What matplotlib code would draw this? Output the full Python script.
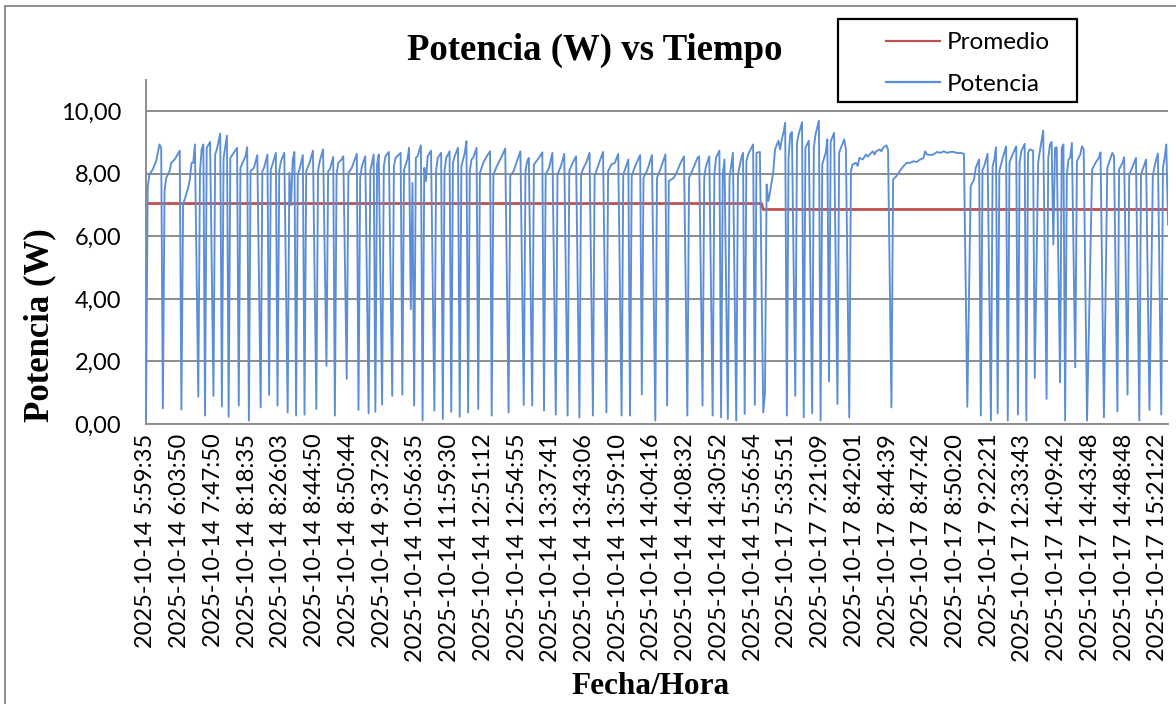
import matplotlib
matplotlib.use("Agg")
import matplotlib.pyplot as plt
from matplotlib.lines import Line2D
from matplotlib.patches import Rectangle

# Muestras (indice de categoria) y potencia en W
pot_idx = [
    0, 1, 2, 4, 6, 8, 9, 10, 11, 12, 14, 15, 17, 20, 21, 22, 25, 26, 27, 28, 29, 31,
    32, 33, 34, 35, 36, 38, 40, 41, 42, 44, 45, 46, 48, 49, 50, 52, 54, 55,
    56, 59, 60, 61, 62, 64, 66, 68, 69, 70, 72, 73, 74, 75, 77, 78, 79, 80, 82, 84,
    85, 86, 87, 88, 89, 90, 91, 93, 94, 95, 97, 99, 101, 102, 103, 105, 107,
    108, 109, 111, 112, 113, 114, 116, 117, 119, 120, 122, 125, 126, 127, 128, 130, 132,
    133, 135, 136, 137, 138, 140, 141, 142, 144, 146, 147, 148, 151, 152,
    153, 155, 156, 157, 158, 159, 160, 161, 163, 164, 165, 166, 167, 169, 171,
    172, 173, 175, 176, 177, 178, 180, 181, 182, 183, 185, 186, 187, 189, 190, 191,
    192, 193, 194, 196, 197, 198, 200, 202, 204, 205, 206, 208, 210, 211, 213, 215,
    216, 218, 220, 222, 224, 225, 226, 227, 229, 230, 233, 235, 236, 237, 239, 241, 243,
    244, 246, 248, 250, 251, 253, 255, 257, 258, 259, 261, 263, 265,
    266, 267, 269, 271, 273, 274, 276, 278, 280, 282, 283, 284, 286, 287,
    288, 290, 293, 294, 295, 297, 298, 300, 302, 303, 305, 308, 309,
    310, 313, 315, 317, 319, 321, 322, 325, 327, 328, 330, 331, 332, 334, 336,
    337, 338, 340, 341, 342, 343, 345, 346, 348, 350, 351, 353, 354, 355,
    356, 357, 360, 361, 362, 364, 366, 367,
    368, 369, 370, 372, 373, 375, 376, 377, 378, 379, 380,
    381, 382, 383, 385, 386, 387, 389, 390, 391, 393, 395, 396, 397, 399, 400,
    401, 403, 404, 405, 406, 408, 410, 411, 412, 414, 415, 417,
    418, 419, 421, 422, 423, 425, 427, 428, 430, 431, 432, 433, 435, 436, 437, 439, 440, 442,
    443, 445, 447, 449, 451, 453, 455, 457, 459, 461, 462, 463, 465, 467, 469, 471,
    473, 475, 477, 479, 481, 483, 485, 487,
    489, 491, 492, 494, 495, 496, 497, 499, 501, 502, 503, 504, 505,
    506, 508, 510, 511, 512, 513, 516, 517, 518, 519, 521, 522, 523, 524, 526, 527,
    529, 530, 532, 534, 535, 536, 537, 538, 539, 540, 542, 543, 544, 545,
    546, 547, 548, 549, 551, 552, 554, 555, 556, 558, 561, 563, 565, 566, 568,
    570, 571, 573, 574, 576, 577, 579, 580, 582, 583, 584, 587, 589,
    590, 591, 593, 595, 597, 598, 600, 602, 603, 604, 605, 606,
]
pot_val = [
    0.10, 7.55, 7.98, 8.14, 8.40, 8.94, 8.83, 0.50, 7.45, 7.87, 8.09, 8.35, 8.46, 8.74, 0.46, 7.02, 7.55, 7.82, 8.35, 8.35, 8.94, 0.87,
    8.09, 8.78, 8.94, 0.27, 8.83, 9.02, 0.90, 8.62, 8.78, 9.29, 0.56, 8.51, 9.22, 0.23, 8.51, 8.67, 8.83, 0.59,
    8.19, 8.56, 8.85, 0.11, 8.09, 8.19, 8.60, 0.53, 8.09, 8.19, 8.62, 0.93, 8.14, 8.30, 8.67, 0.59, 8.09, 8.40, 8.67, 0.37,
    8.03, 7.00, 8.46, 8.70, 0.27, 7.98, 8.14, 8.60, 0.30, 8.09, 8.35, 8.74, 0.48, 8.09, 8.40, 8.78, 1.86,
    8.09, 8.14, 8.54, 0.27, 7.98, 8.35, 8.46, 8.56, 1.44, 8.03, 8.19, 8.64, 0.45, 7.87, 8.24, 8.56, 0.34,
    8.09, 8.62, 0.39, 8.30, 8.62, 0.62, 8.24, 8.56, 8.70, 0.90, 8.24, 8.51, 8.67, 0.94,
    8.14, 8.46, 8.83, 3.67, 7.71, 0.59, 8.51, 8.56, 8.91, 0.11, 8.19, 7.77, 8.56, 8.74, 0.43,
    8.09, 8.51, 8.67, 0.16, 8.09, 8.51, 8.72, 0.39, 8.35, 8.56, 8.83, 0.23, 8.24, 8.67, 9.04, 0.37,
    8.09, 8.46, 8.51, 8.83, 0.48, 8.03, 8.35, 8.56, 8.72, 0.27, 7.98, 8.24, 8.46, 8.56, 8.81, 0.37,
    7.93, 8.09, 8.40, 8.72, 0.61, 8.09, 8.40, 8.51, 0.59, 8.30, 8.51, 8.69, 0.43, 7.98, 8.19, 8.67, 0.30,
    7.98, 8.24, 8.64, 0.27, 8.09, 8.35, 8.56, 0.21, 7.98, 8.14, 8.35, 8.67, 0.27,
    7.93, 8.09, 8.40, 8.70, 0.37, 8.09, 8.30, 8.35, 8.64, 0.27, 7.98, 8.14, 8.46, 0.27,
    7.93, 8.24, 8.60, 0.94, 7.87, 8.09, 8.24, 8.60, 0.11, 7.87, 8.14, 8.62, 0.59,
    7.77, 7.87, 8.09, 8.35, 8.56, 0.27, 7.87, 8.24, 8.51, 8.56, 0.59, 7.87, 8.24, 8.56, 0.27,
    7.98, 8.51, 8.74, 0.21, 7.98, 8.46, 0.16, 7.87, 8.67, 0.11, 7.98, 8.51, 8.67, 0.32,
    8.40, 8.62, 8.94, 0.61, 8.67, 8.70, 0.37, 0.96,
    7.66, 7.13, 7.40, 8.09, 8.78, 9.06, 8.78, 9.10, 9.31, 9.63, 0.27,
    8.51, 9.26, 9.34, 0.90, 8.99, 9.26, 9.65, 0.21, 8.83, 9.06, 0.34, 8.83, 9.26, 9.70, 0.11,
    8.30, 8.67, 9.10, 1.36, 9.04, 9.31, 0.64, 8.67, 8.83, 9.10, 8.78, 0.21,
    8.09, 8.30, 8.35, 8.25, 8.51, 8.46, 8.62, 8.55, 8.67, 8.72, 8.62, 8.72, 8.78, 8.72, 8.83, 8.91, 8.78, 0.53,
    7.82, 7.93, 8.09, 8.24, 8.35, 8.35, 8.40, 8.38, 8.46, 8.50, 8.72, 8.62, 8.60, 8.62, 8.70, 8.67,
    8.72, 8.67, 8.70, 8.70, 8.66, 8.67, 8.64, 0.55,
    7.61, 7.82, 8.19, 8.46, 0.27, 8.14, 8.24, 8.64, 0.11, 8.24, 8.46, 8.85, 0.34,
    8.09, 8.51, 8.88, 0.11, 8.35, 8.51, 8.88, 0.30, 8.35, 8.72, 8.96, 0.11, 8.67, 8.78, 8.74, 1.47,
    8.35, 8.72, 9.38, 0.80, 8.51, 8.94, 9.02, 5.74, 8.83, 8.85, 1.33, 8.83, 8.94, 0.11,
    7.98, 8.46, 8.51, 8.99, 1.81, 8.40, 8.62, 8.88, 8.78, 0.11, 8.14, 8.35, 8.51, 8.69, 0.21,
    8.19, 8.35, 8.67, 8.56, 0.40, 8.14, 8.35, 8.53, 0.94, 7.98, 8.09, 8.51, 0.11,
    7.98, 8.14, 8.46, 0.45, 7.93, 8.24, 8.65, 0.30, 8.19, 8.51, 8.94, 6.38,
]

# Promedio por dia (dos niveles)
prom_idx = [0, 365, 366, 606]
prom_val = [7.05, 7.05, 6.86, 6.86]

n_muestras = 607
paso_etiqueta = 20
etiquetas = [
    "2025-10-14 5:59:35", "2025-10-14 6:03:50", "2025-10-14 7:47:50",
    "2025-10-14 8:18:35", "2025-10-14 8:26:03", "2025-10-14 8:44:50",
    "2025-10-14 8:50:44", "2025-10-14 9:37:29", "2025-10-14 10:56:35",
    "2025-10-14 11:59:30", "2025-10-14 12:51:12", "2025-10-14 12:54:55",
    "2025-10-14 13:37:41", "2025-10-14 13:43:06", "2025-10-14 13:59:10",
    "2025-10-14 14:04:16", "2025-10-14 14:08:32", "2025-10-14 14:30:52",
    "2025-10-14 15:56:54", "2025-10-17 5:35:51", "2025-10-17 7:21:09",
    "2025-10-17 8:42:01", "2025-10-17 8:44:39", "2025-10-17 8:47:42",
    "2025-10-17 8:50:20", "2025-10-17 9:22:21", "2025-10-17 12:33:43",
    "2025-10-17 14:09:42", "2025-10-17 14:43:48", "2025-10-17 14:48:48",
    "2025-10-17 15:21:22",
]
y_ticks = [0, 2, 4, 6, 8, 10]

AZUL = "#5B8ED6"
ROJO = "#C0504D"
GRIS = "#8C8C8C"
SANS = "Lato"
SERIF = "Liberation Serif"

W, H = 1176, 704
fig = plt.figure(figsize=(W / 100, H / 100), dpi=100)
ax = fig.add_axes([146 / W, 1 - 424 / H, (1168 - 146) / W, (424 - 80) / H])

ax.plot(prom_idx, prom_val, color=ROJO, lw=2.0, zorder=2)
ax.plot(pot_idx, pot_val, color=AZUL, lw=1.35, zorder=3)

ax.set_xlim(0, n_muestras - 1)
ax.set_ylim(0, 11)
ax.set_yticks(y_ticks)
ax.set_yticklabels([f"{v:.2f}".replace(".", ",") for v in y_ticks], fontfamily=SANS, fontsize=17)
ax.set_xticks(range(0, paso_etiqueta * len(etiquetas), paso_etiqueta))
ax.set_xticklabels(etiquetas, rotation=90, fontfamily=SANS, fontsize=17, va="top", ha="center")
ax.tick_params(axis="y", length=0, pad=18)
ax.tick_params(axis="x", length=0, pad=7)

ax.yaxis.grid(True, color=GRIS, lw=1.4)
ax.set_axisbelow(True)
for s in ("top", "right"):
    ax.spines[s].set_visible(False)
for s in ("left", "bottom"):
    ax.spines[s].set_color(GRIS)
    ax.spines[s].set_linewidth(1.4)

fig.text(595 / W, 1 - 50 / H, "Potencia (W) vs Tiempo", family=SERIF, weight="bold",
         fontsize=26.5, ha="center", va="center")
fig.text(40 / W, 1 - 325 / H, "Potencia (W)", family=SERIF, weight="bold",
         fontsize=25, rotation=90, ha="center", va="center")
fig.text(651 / W, 1 - 686 / H, "Fecha/Hora", family=SERIF, weight="bold",
         fontsize=22.5, ha="center", va="center")

# borde exterior del area del grafico
fig.patches.append(Rectangle((5 / W, -0.1), 1.2, 1.1 - 6 / H, transform=fig.transFigure,
                             fill=False, edgecolor=GRIS, lw=1.4, clip_on=False))

# leyenda con marco propio
fig.patches.append(Rectangle((838 / W, 1 - 102 / H), (1077 - 838) / W, (102 - 19) / H,
                             transform=fig.transFigure, fill=False, edgecolor="black", lw=1.6))
handles = [Line2D([], [], color=ROJO, lw=1.6), Line2D([], [], color=AZUL, lw=1.6)]
fig.legend(handles, ["Promedio", "Potencia"], loc="upper left",
           bbox_to_anchor=(874 / W, 1 - 20 / H), frameon=False, borderpad=0,
           handlelength=2.2, handletextpad=0.3, labelspacing=0.85,
           prop={"family": SANS, "size": 17.5})

fig.savefig("out.png", dpi=100)
